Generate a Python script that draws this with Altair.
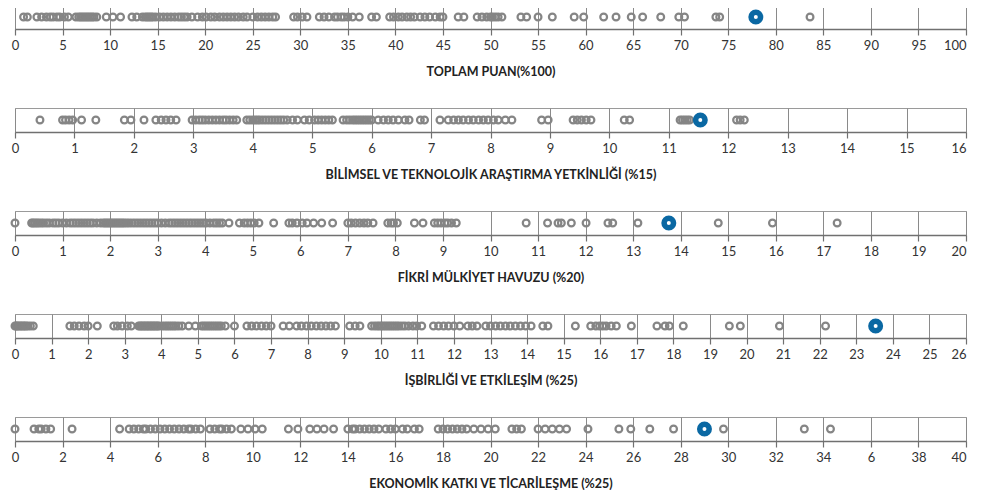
import altair as alt
import pandas as pd

# ---- data ----
toplam = [0.9, 1.3, 2.3, 2.8, 3.3, 3.7, 4.0, 4.4, 4.7, 5.2, 5.6, 6.4, 6.7, 6.9, 7.1, 7.3, 7.5, 7.7, 7.9,
          8.1, 8.3, 8.6, 9.6, 10.3, 11.1, 12.3, 12.8, 13.4, 13.7, 13.9, 14.1, 14.3, 14.5, 14.8, 15.2, 15.6,
          16.0, 16.4, 16.8, 17.2, 17.5, 17.8, 18.1, 18.6, 19.2, 19.7, 20.1, 20.6, 21.0, 21.5, 21.9, 22.3,
          22.7, 23.1, 23.5, 24.0, 24.4, 25.0, 25.5, 25.9, 26.3, 26.7, 27.1, 27.4, 29.3, 29.7, 30.2, 30.7,
          32.0, 32.5, 33.0, 33.6, 33.9, 34.3, 34.6, 35.0, 35.5, 36.2, 37.5, 38.0, 39.4, 39.8, 40.3, 40.7,
          41.2, 41.6, 42.0, 42.6, 43.1, 43.6, 44.2, 44.7, 45.0, 46.6, 47.2, 48.6, 49.1, 49.6, 50.0, 50.2,
          50.5, 50.8, 51.2, 53.2, 53.8, 55.0, 56.5, 58.8, 59.8, 61.9, 63.2, 64.8, 66.0, 67.9, 69.8, 70.4,
          73.7, 74.1, 83.6]
toplam_hl = [77.9]

bilimsel = [0.42, 0.8, 0.85, 0.91, 0.97, 1.12, 1.36, 1.84, 1.95, 2.17, 2.37, 2.46, 2.54, 2.62, 2.71, 2.98,
            3.04, 3.1, 3.15, 3.2, 3.26, 3.32, 3.38, 3.44, 3.5, 3.55, 3.61, 3.67, 3.73, 3.9, 3.95, 4.0, 4.04,
            4.08, 4.12, 4.17, 4.22, 4.27, 4.32, 4.37, 4.42, 4.47, 4.52, 4.58, 4.67, 4.75, 4.87, 4.95, 5.04,
            5.1, 5.16, 5.22, 5.28, 5.34, 5.52, 5.58, 5.63, 5.68, 5.72, 5.76, 5.8, 5.84, 5.88, 5.92, 5.96,
            6.0, 6.11, 6.2, 6.28, 6.36, 6.45, 6.56, 6.63, 6.82, 6.89, 7.15, 7.29, 7.38, 7.46, 7.54, 7.63,
            7.71, 7.8, 7.88, 7.96, 8.05, 8.13, 8.25, 8.36, 8.86, 8.97, 9.39, 9.46, 9.53, 9.61, 9.69, 10.25,
            10.34, 11.19, 11.23, 11.27, 11.31, 11.35, 12.14, 12.2, 12.27]
bilimsel_hl = [11.53]

fikri = [0.0, 0.35, 0.38, 0.42, 0.46, 0.5, 0.55, 0.6, 0.66, 0.72, 0.8, 0.86, 0.92, 1.0, 1.08, 1.16, 1.22,
         1.28, 1.34, 1.4, 1.46, 1.52, 1.58, 1.64, 1.72, 1.8, 1.86, 1.9, 1.94, 1.98, 2.02, 2.06, 2.1, 2.14,
         2.18, 2.22, 2.26, 2.3, 2.35, 2.4, 2.46, 2.52, 2.58, 2.64, 2.7, 2.76, 2.82, 2.88, 2.94, 3.0, 3.08,
         3.16, 3.24, 3.3, 3.36, 3.42, 3.48, 3.54, 3.6, 3.66, 3.72, 3.78, 3.84, 3.9, 3.96, 4.02, 4.1, 4.18,
         4.24, 4.3, 4.36, 4.5, 4.72, 4.82, 4.89, 4.96, 5.03, 5.13, 5.44, 5.76, 5.83, 5.93, 6.04, 6.14, 6.28,
         6.45, 6.68, 7.0, 7.07, 7.16, 7.25, 7.34, 7.42, 7.53, 7.84, 7.91, 7.96, 8.04, 8.4, 8.58, 8.82, 8.89,
         8.96, 9.04, 9.1, 9.18, 9.28, 10.75, 11.2, 11.42, 11.49, 11.7, 12.01, 12.47, 12.57, 13.1, 14.79,
         15.93, 17.29]
fikri_hl = [13.75]

isbirligi = [0.0, 0.03, 0.06, 0.1, 0.14, 0.18, 0.22, 0.26, 0.3, 0.35, 0.42, 0.5, 1.5, 1.62, 1.75, 1.89, 2.0,
             2.25, 2.7, 2.8, 2.93, 3.07, 3.18, 3.38, 3.42, 3.46, 3.5, 3.54, 3.58, 3.62, 3.66, 3.7, 3.74, 3.78,
             3.82, 3.86, 3.9, 3.94, 4.03, 4.1, 4.16, 4.22, 4.28, 4.34, 4.4, 4.48, 4.57, 4.75, 4.93, 5.1, 5.16,
             5.22, 5.28, 5.34, 5.4, 5.46, 5.52, 5.58, 5.64, 5.75, 6.0, 6.34, 6.47, 6.6, 6.74, 6.87, 7.0, 7.33,
             7.5, 7.7, 7.83, 7.97, 8.1, 8.24, 8.37, 8.5, 8.63, 8.76, 9.15, 9.3, 9.43, 9.75, 9.83, 9.9, 9.96,
             10.02, 10.08, 10.14, 10.2, 10.26, 10.32, 10.38, 10.44, 10.5, 10.58, 10.66, 10.76, 10.88, 10.98,
             11.12, 11.44, 11.58, 11.72, 11.85, 12.0, 12.16, 12.38, 12.5, 12.63, 12.87, 13.0, 13.14, 13.27,
             13.41, 13.54, 13.68, 13.82, 13.96, 14.11, 14.43, 14.57, 15.32, 15.74, 15.88, 15.98, 16.07, 16.16,
             16.3, 16.44, 16.85, 17.55, 17.77, 17.89, 18.27, 19.53, 19.83, 20.9, 22.16]
isbirligi_hl = [23.53]

ekonomik = [0.0, 0.8, 1.0, 1.1, 1.3, 1.5, 2.4, 4.4, 4.8, 5.0, 5.2, 5.4, 5.5, 5.7, 5.9, 6.1, 6.3, 6.5, 6.7,
            6.9, 7.1, 7.3, 7.4, 7.6, 7.8, 8.2, 8.4, 8.6, 8.7, 8.9, 9.1, 9.5, 9.8, 10.1, 10.4, 11.5, 11.9,
            12.4, 12.7, 13.0, 13.4, 14.0, 14.2, 14.3, 14.5, 14.7, 14.9, 15.1, 15.3, 15.6, 15.8, 16.0, 16.3,
            16.5, 16.8, 17.0, 17.8, 18.0, 18.2, 18.4, 18.6, 18.8, 19.0, 19.3, 19.6, 19.9, 20.2, 20.9, 21.1,
            21.3, 22.0, 22.3, 22.6, 22.9, 23.2, 24.1, 25.4, 25.9, 26.7, 27.7, 29.8, 33.2, 34.3]
ekonomik_hl = [29.0]

titles = ["TOPLAM PUAN(%100)",
          "BİLİMSEL VE TEKNOLOJİK ARAŞTIRMA YETKİNLİĞİ (%15)",
          "FİKRİ MÜLKİYET HAVUZU (%20)",
          "İŞBİRLİĞİ VE ETKİLEŞİM (%25)",
          "EKONOMİK KATKI VE TİCARİLEŞME (%25)"]
maxima = [100, 16, 20, 26, 40]
tick_steps = [5, 1, 1, 1, 2]
series = [toplam, bilimsel, fikri, isbirligi, ekonomik]
highlights = [toplam_hl, bilimsel_hl, fikri_hl, isbirligi_hl, ekonomik_hl]
label_exprs = [None, None, None, None, "datum.value == 36 ? '6' : datum.label"]

GRAY = "#858585"
BLUE = "#0a68a3"
FONT = "Lato"

panels = []
for vals, hl, mx, step, title, lexpr in zip(series, highlights, maxima, tick_steps, titles, label_exprs):
    df = pd.DataFrame({"v": vals})
    hdf = pd.DataFrame({"v": hl})
    axis_kwargs = dict(
        values=list(range(0, mx + 1, step)), title=title, grid=True, format="d",
        labelOverlap=False, tickCount=len(range(0, mx + 1, step)),
        labelAlign={"condition": {"test": f"datum.value == {mx}", "value": "right"}, "value": "center"},
    )
    if lexpr:
        axis_kwargs["labelExpr"] = lexpr
    xenc = alt.X("v:Q", scale=alt.Scale(domain=[0, mx], nice=False, zero=False),
                 axis=alt.Axis(**axis_kwargs))
    pts = alt.Chart(df).mark_point(shape="circle", filled=False, size=46, strokeWidth=2.2,
                                   color=GRAY, opacity=1).encode(x=xenc, y=alt.value(12))
    hi = alt.Chart(hdf).mark_point(shape="circle", filled=False, size=90, strokeWidth=5.5,
                                   stroke=BLUE, fill="white", fillOpacity=1, opacity=1).encode(
        x=xenc, y=alt.value(12))
    panels.append(alt.layer(pts, hi).properties(width=951, height=24))

chart = alt.vconcat(*panels, spacing=25).properties(
    padding={"left": -2, "top": -8, "right": 0, "bottom": 0},
    background="white",
).configure_view(
    stroke="#9a9a9a", strokeWidth=1
).configure_axis(
    domainColor="#707070", domainWidth=1.5, tickColor="#707070", tickSize=6, tickWidth=1.2,
    gridColor="#8a8a8a", gridWidth=1, gridOpacity=1,
    labelFont=FONT, labelFontSize=13, labelColor="#333333", labelPadding=4,
    titleFont=FONT, titleFontSize=12.5, titleFontWeight="bold", titleColor="#222222", titlePadding=13
)

chart.save("out.html", embed_options={"renderer": "svg", "actions": False})
